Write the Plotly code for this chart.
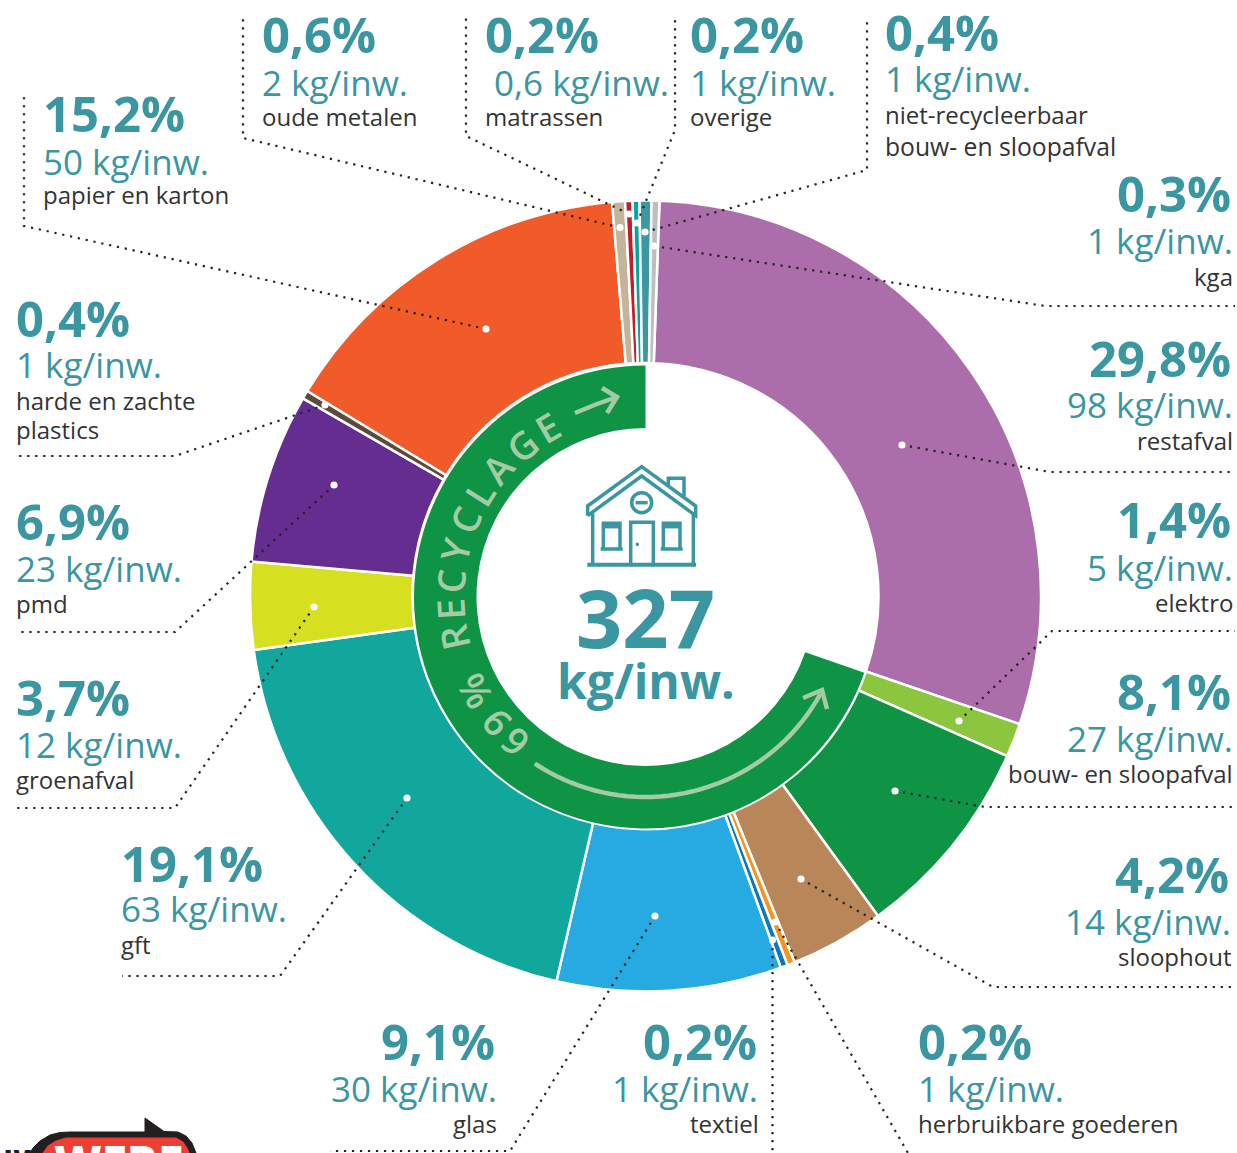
import math
import plotly.graph_objects as go

W, H = 1237, 1153
categories = ["restafval", "elektro", "bouw- en sloopafval", "sloophout", "herbruikbare goederen", "textiel",
              "glas", "gft", "groenafval", "pmd", "harde en zachte plastics", "papier en karton",
              "oude metalen", "matrassen", "overige", "niet-recycleerbaar bouw- en sloopafval", "kga"]
# slice sizes as drawn in the picture (percent of the circle)
slice_values = [29.69, 1.39, 8.36, 3.85, 0.31, 0.29, 9.17, 19.21, 3.57, 6.94, 0.344, 14.98,
                0.525, 0.30, 0.283, 0.483, 0.322]
pct_labels = ["29,8%", "1,4%", "8,1%", "4,2%", "0,2%", "0,2%", "9,1%", "19,1%", "3,7%", "6,9%", "0,4%", "15,2%",
              "0,6%", "0,2%", "0,2%", "0,4%", "0,3%"]
kg_labels = ["98 kg/inw.", "5 kg/inw.", "27 kg/inw.", "14 kg/inw.", "1 kg/inw.", "1 kg/inw.", "30 kg/inw.",
             "63 kg/inw.", "12 kg/inw.", "23 kg/inw.", "1 kg/inw.", "50 kg/inw.", "2 kg/inw.", "0,6 kg/inw.",
             "1 kg/inw.", "1 kg/inw.", "1 kg/inw."]
name_lines = [["restafval"], ["elektro"], ["bouw- en sloopafval"], ["sloophout"], ["herbruikbare goederen"],
              ["textiel"], ["glas"], ["gft"], ["groenafval"], ["pmd"], ["harde en zachte", "plastics"],
              ["papier en karton"], ["oude metalen"], ["matrassen"], ["overige"],
              ["niet-recycleerbaar", "bouw- en sloopafval"], ["kga"]]
colors = ["#ac6dab", "#8cc63f", "#0f9345", "#b98659", "#f7941d", "#0f75bc", "#27aae1", "#12a79d", "#d7df21",
          "#662d91", "#5c4a3d", "#f15a29", "#c2b59b", "#be1e2d", "#00a79d", "#3b97a2", "#bcbec2"]
ring_values = [30.3, 69.7]
total_label = "327"
unit_label = "kg/inw."

TEAL = "#3a96a0"
DARK = "#333333"
GREEN = "#0f9345"
PALE = "#a5cba5"
FONT = "Open Sans"
CX, CY, R = 645.5, 596.0, 395.5
RING_CX, RING_CY, RING_R = 645.5, 597.0, 231.5

def px(x): return x / W
def py(y): return 1 - y / H

def domain(cx, cy, r):
    return dict(x=[px(cx - r), px(cx + r)], y=[py(cy + r), py(cy - r)])

fig = go.Figure()
fig.add_trace(go.Pie(labels=categories, values=slice_values, sort=False, direction="clockwise", rotation=2.03,
                     hole=233.0 / R, domain=domain(CX, CY, R), textinfo="none", hoverinfo="label+percent",
                     marker=dict(colors=colors, line=dict(color="white", width=2.5)), showlegend=False))
fig.add_trace(go.Pie(labels=["overig", "recyclage"], values=ring_values, sort=False, direction="clockwise",
                     rotation=0, hole=169.0 / RING_R, domain=domain(RING_CX, RING_CY, RING_R), textinfo="none",
                     hoverinfo="skip", marker=dict(colors=["rgba(0,0,0,0)", GREEN], line=dict(width=0)),
                     showlegend=False))

shapes, annots = [], []

def path(points, close=False):
    s = "M" + " L".join(f"{px(x):.5f},{py(y):.5f}" for x, y in points)
    return s + (" Z" if close else "")

def line(points, color, width, dash=None, fill=None, close=False):
    shapes.append(dict(type="path", xref="paper", yref="paper", path=path(points, close), layer="above",
                       line=dict(color=color, width=width, dash=dash or "solid"),
                       fillcolor=fill or "rgba(0,0,0,0)"))

def circle(x, y, r, fill="white", color=None, width=0):
    shapes.append(dict(type="circle", xref="paper", yref="paper", x0=px(x - r), x1=px(x + r), y0=py(y + r),
                       y1=py(y - r), layer="above", fillcolor=fill,
                       line=dict(color=color or fill, width=width)))

def text(x, y, s, size, color, anchor="left", weight=400, angle=0):
    annots.append(dict(xref="paper", yref="paper", x=px(x), y=py(y), text=s, showarrow=False, xanchor=anchor,
                       yanchor="middle", textangle=angle, borderpad=0, borderwidth=0,
                       font=dict(family=FONT, size=size, color=color, weight=weight)))

# leader lines: polyline from white dot outward
leaders = {
    "restafval": [(902, 445), (1050, 472), (1235, 472)],
    "elektro": [(959, 721), (1052, 631), (1235, 631)],
    "bouw- en sloopafval": [(895, 791), (985, 807), (1235, 807)],
    "sloophout": [(801, 879), (993, 987), (1235, 987)],
    "herbruikbare goederen": [(775, 922), (908, 1153)],
    "textiel": [(772.5, 940), (772.5, 1153)],
    "glas": [(655, 916), (510, 1151), (330, 1151)],
    "gft": [(407, 798), (280, 976), (122, 976)],
    "groenafval": [(314, 607), (175, 808), (17, 808)],
    "pmd": [(334, 485), (175, 632), (17, 632)],
    "harde en zachte plastics": [(325, 405), (175, 456), (17, 456)],
    "papier en karton": [(486, 329), (24, 226), (24, 97)],
    "oude metalen": [(620, 227.5), (243, 138), (243, 18)],
    "matrassen": [(629, 214), (466, 136), (466, 18)],
    "overige": [(637, 223), (675, 130), (675, 18)],
    "niet-recycleerbaar bouw- en sloopafval": [(645, 232), (867, 170), (867, 18)],
    "kga": [(654, 246), (1045, 306), (1235, 306)],
}
for cat in categories:
    pts = leaders[cat]
    line(pts, "#222222", 2.2, dash="2.2px,5.8px")
    circle(pts[0][0], pts[0][1], 3.6)

# label blocks: x, anchor, y of percentage / kg / name lines
blocks = {
    "restafval": (1231, "right", 360, 405, [441]),
    "elektro": (1231, "right", 521, 568, [603]),
    "bouw- en sloopafval": (1231, "right", 693, 739, [774]),
    "sloophout": (1229, "right", 876, 922, [957]),
    "herbruikbare goederen": (917.5, "left", 1043, 1089, [1124]),
    "textiel": (757, "right", 1043, 1089, [1124]),
    "glas": (495, "right", 1043, 1089, [1124]),
    "gft": (121, "left", 865, 910, [945]),
    "groenafval": (16, "left", 699, 745, [780]),
    "pmd": (16, "left", 523, 569, [604]),
    "harde en zachte plastics": (16, "left", 320, 366, [401, 430]),
    "papier en karton": (43, "left", 115, 162, [196]),
    "oude metalen": (262, "left", 36, 83, [117]),
    "matrassen": (485, "left", 36, 83, [117]),
    "overige": (690, "left", 36, 83, [117]),
    "niet-recycleerbaar bouw- en sloopafval": (885, "left", 34, 80, [115, 147]),
    "kga": (1231, "right", 195, 242, [277]),
}
kg_shift = {"matrassen": 9}
for cat, pct, kg, names in zip(categories, pct_labels, kg_labels, name_lines):
    x, anchor, y1, y2, y3 = blocks[cat]
    text(x, y1 - 2, pct, 49, TEAL, anchor, 700)
    kx = x + kg_shift.get(cat, 0) + (1.5 if anchor == "right" else 0)
    text(kx, y2 - 1, kg, 35, TEAL, anchor)
    for nm, yy in zip(names, y3):
        size = 24.7 if nm.startswith("bouw") and cat.startswith("niet") else 24
        text(x + (2 if anchor == "right" else 0), yy - 1, nm, size, DARK, anchor)

# centre
text(645, 616, total_label, 81, TEAL, "center", 700)
text(646, 680, unit_label, 48, TEAL, "center", 700)

# ring lettering: character, clockwise angle from top
ring_letters = [("6", 221.9), ("9", 230), ("%", 241), ("R", 257.9), ("E", 266.5), ("C", 274.7), ("Y", 283.8),
                ("C", 293.3), ("L", 302), ("A", 311), ("G", 321), ("E", 330)]
for ch, a in ring_letters:
    r = 196
    t = math.radians(a)
    text(RING_CX + r * math.sin(t), RING_CY - r * math.cos(t), ch, 38, PALE, "center", 600, angle=a - 360)

# ring arrows
line([(575, 413), (597, 404), (617, 397)], PALE, 4.5)
line([(602, 388), (617, 397), (607, 413)], PALE, 4.5)
arc = [(RING_CX + 200 * math.sin(math.radians(a)), RING_CY - 200 * math.cos(math.radians(a)))
       for a in [213.6 - i * (213.6 - 119) / 40 for i in range(41)]]
line(arc, PALE, 4.5)
line([(803, 698), (822, 690), (827, 709)], PALE, 4.5)

# house icon
def z(*pts):
    return [(400 + a / 3, 350 + b / 3) for a, b in pts]
I = 3.5
line(z((563, 497), (563, 468), (725, 350), (887, 468), (887, 497), (725, 378), (563, 497)), TEAL, I)
line(z((578, 490), (578, 642)), TEAL, I)
line(z((880, 490), (880, 642)), TEAL, I)
line(z((562, 644), (888, 644)), TEAL, I + 0.5)
line(z((805, 408), (805, 385), (852, 385), (852, 438)), TEAL, I)
circle(400 + 725 / 3, 350 + 458 / 3, 10, fill="white", color=TEAL, width=I)
line(z((707, 458), (743, 458)), TEAL, I)
line(z((692, 642), (692, 517), (760, 517), (760, 642)), TEAL, I)
circle(400 + 712 / 3, 350 + 583 / 3, 1.8, fill=TEAL)
for x0 in (610, 790):
    line(z((x0, 595), (x0, 520), (x0 + 50, 520), (x0 + 50, 595)), TEAL, I)
    line(z((x0, 530), (x0 + 50, 530)), TEAL, I)
    line(z((x0 - 8, 597), (x0 + 58, 597)), TEAL, I)

# logo at the bottom edge
line([(30, 1153), (33, 1148), (40, 1141), (50, 1135), (60, 1132.5), (70, 1132), (145, 1132), (145, 1118),
      (164, 1131.5), (178, 1132), (186, 1136), (192, 1143), (196, 1153)], "#231f20", 1, fill="#231f20", close=True)
line([(43, 1153), (48, 1146), (56, 1141), (66, 1138), (176, 1138), (183, 1142), (187, 1148), (189, 1153)],
     "#ef3e33", 1, fill="#ef3e33", close=True)
text(118, 1161, "WERF", 46, "white", "center", 800)
text(16, 1156, "uw", 34, "#231f20", "center", 700)

fig.update_layout(width=W, height=H, autosize=False, margin=dict(l=0, r=0, t=0, b=0), paper_bgcolor="white",
                  plot_bgcolor="white", shapes=shapes, annotations=annots, showlegend=False)
fig.write_html("out.html", post_script="document.body.style.margin='0';document.body.style.overflow='hidden';",
               config={"displayModeBar": False})
